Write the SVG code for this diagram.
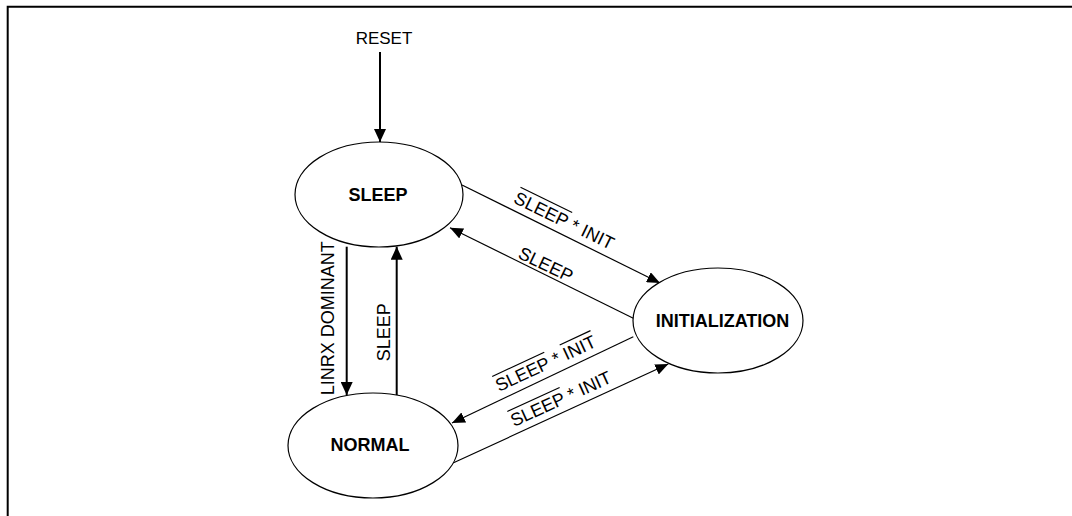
<svg xmlns="http://www.w3.org/2000/svg" width="1072" height="516" viewBox="0 0 1072 516">
<style>
.st{fill:#fff;stroke:#000;stroke-width:1.2}
.nl{font-family:"Liberation Sans",Arial,sans-serif;font-size:18px;font-weight:bold;fill:#000;text-anchor:middle}
.lb{font-family:"Liberation Sans",Arial,sans-serif;font-size:18px;fill:#000}
.thick{stroke:#000;stroke-width:2;fill:none}
.thin{stroke:#000;stroke-width:1.2;fill:none}
.ol{stroke:#000;stroke-width:1.2}
</style>
<defs>
<marker id="ah" viewBox="0 0 13 12" refX="13" refY="6" markerWidth="13" markerHeight="12" markerUnits="userSpaceOnUse" orient="auto">
<path d="M0,0 L13,6 L0,12 z" fill="#000"/>
</marker>
<marker id="ahs" viewBox="0 0 13 11" refX="13" refY="5.5" markerWidth="13" markerHeight="11" markerUnits="userSpaceOnUse" orient="auto">
<path d="M0,0 L13,5.5 L0,11 z" fill="#000"/>
</marker>
</defs>
<path d="M7.7,516 V6.7 H1072" fill="none" stroke="#000" stroke-width="2"/>
<text class="lb" x="384" y="44" font-size="17" text-anchor="middle" style="font-size:17px">RESET</text>
<g id="connectors">
<line class="thick" x1="380" y1="52" x2="380" y2="142" marker-end="url(#ah)"/>
<line class="thick" x1="346.7" y1="246.7" x2="346.7" y2="395" marker-end="url(#ah)"/>
<line class="thick" x1="396.7" y1="395" x2="396.7" y2="246.7" marker-end="url(#ah)"/>
<line class="thin" x1="462" y1="185" x2="660" y2="283" marker-end="url(#ahs)"/>
<line class="thin" x1="633.3" y1="318.3" x2="450" y2="227.7" marker-end="url(#ahs)"/>
<line class="thin" x1="633.3" y1="336.7" x2="452" y2="423" marker-end="url(#ahs)"/>
<line class="thin" x1="453" y1="463" x2="668.3" y2="364" marker-end="url(#ahs)"/>
<text class="lb" transform="translate(334,318.3) rotate(-90)" text-anchor="middle">LINRX DOMINANT</text>
<text class="lb" transform="translate(390,332.3) rotate(-90)" text-anchor="middle">SLEEP</text>
<g transform="translate(512.6,202.3) rotate(26)">
<text class="lb" x="0" y="0">SLEEP * INIT</text>
<line class="ol" x1="0.5" y1="-17" x2="58" y2="-17"/>
</g>
<g transform="translate(517,257.5) rotate(25.6)">
<text class="lb" x="0" y="0">SLEEP</text>
</g>
<g transform="translate(498.9,392.1) rotate(-25)">
<text class="lb" x="0" y="0">SLEEP * INIT</text>
<line class="ol" x1="0.5" y1="-17" x2="58" y2="-17"/>
<line class="ol" x1="75" y1="-17" x2="109" y2="-17"/>
</g>
<g transform="translate(513.9,427.1) rotate(-24.5)">
<text class="lb" x="0" y="0">SLEEP * INIT</text>
<line class="ol" x1="0.5" y1="-17" x2="58" y2="-17"/>
</g>
</g>
<g id="sleep">
<ellipse class="st" cx="379" cy="194.5" rx="84" ry="52.5"/>
<text class="nl" x="378" y="201">SLEEP</text>
</g>
<g id="normal">
<ellipse class="st" cx="373" cy="445.5" rx="85" ry="52.5"/>
<text class="nl" x="370" y="451">NORMAL</text>
</g>
<g id="initialization">
<ellipse class="st" cx="718" cy="320.5" rx="85" ry="52.5"/>
<text class="nl" x="722.5" y="327">INITIALIZATION</text>
</g>
</svg>
